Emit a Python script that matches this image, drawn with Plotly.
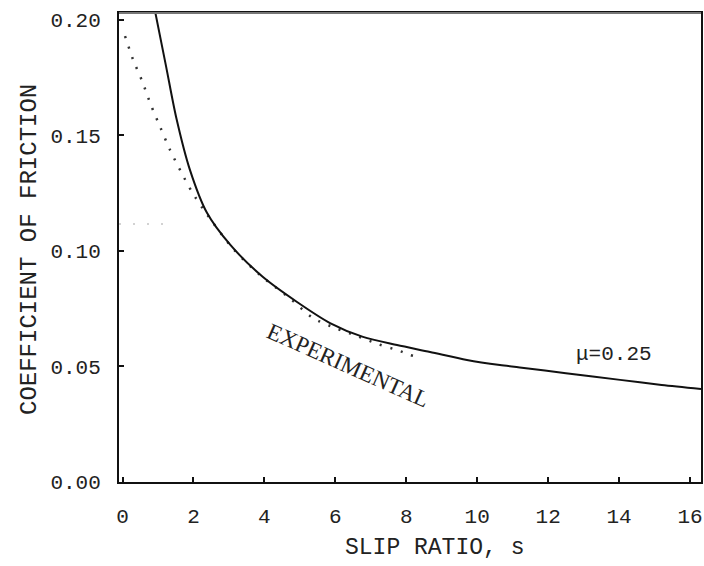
import plotly.graph_objects as go

# Theoretical curve (mu = 0.25)
solid_s = [0.92, 1.23, 1.51, 1.90, 2.38, 3.04, 3.96, 4.92, 5.85, 6.78, 7.74, 8.67,
           9.71, 10.64, 11.20, 12.50, 14.03, 15.20, 16.31]
solid_mu = [0.2035, 0.1797, 0.1580, 0.1351, 0.1165, 0.1026, 0.0887, 0.0779, 0.0688,
            0.0628, 0.0593, 0.0563, 0.0528, 0.0506, 0.0496, 0.0471, 0.0442, 0.0420,
            0.0403]

# Experimental curve (dotted)
exp_s = [0.07, 0.30, 0.55, 0.80, 1.06, 1.34, 1.65, 1.96, 2.33, 3.12, 3.88, 4.72,
         5.37, 5.99, 6.61, 7.20, 7.82, 8.10, 8.35]
exp_mu = [0.193, 0.1827, 0.1736, 0.1632, 0.1537, 0.1437, 0.1342, 0.1255, 0.1169,
          0.1009, 0.0895, 0.0795, 0.0710, 0.0667, 0.0632, 0.0597, 0.0567, 0.0550,
          0.0540]

# faint scan artefact (dotted horizontal trace near 0.11)
faint_s = [-0.1, 1.45]
faint_mu = [0.1117, 0.1117]

x_ticks = [0, 2, 4, 6, 8, 10, 12, 14, 16]
y_ticks = [0.00, 0.05, 0.10, 0.15, 0.20]
y_tick_text = ["0.00", "0.05", "0.10", "0.15", "0.20"]

x_title = "SLIP RATIO, s"
y_title = "COEFFICIENT OF FRICTION"
label_exp = "EXPERIMENTAL"
label_mu = "μ=0.25"

mono = "Liberation Mono"
serif = "Liberation Serif"

fig = go.Figure()
fig.add_trace(go.Scatter(x=faint_s, y=faint_mu, mode="lines",
                         line=dict(color="#c4c4c4", width=1.5, dash="2px,12px"),
                         hoverinfo="skip", showlegend=False))
fig.add_trace(go.Scatter(x=exp_s, y=exp_mu, mode="lines", line_shape="spline",
                         line=dict(color="#333333", width=2.5, dash="2px,9px",
                                   smoothing=0.8),
                         showlegend=False))
fig.add_trace(go.Scatter(x=solid_s, y=solid_mu, mode="lines", line_shape="spline",
                         line=dict(color="#111111", width=2, smoothing=0.8),
                         showlegend=False))

fig.update_layout(
    width=704, height=566,
    margin=dict(l=119, r=3, t=13, b=84),
    paper_bgcolor="white", plot_bgcolor="white",
    showlegend=False,
    xaxis=dict(range=[-0.1, 16.31], tickvals=x_ticks, ticks="inside", ticklen=5,
               tickwidth=1.5, tickcolor="#111", showline=True, linecolor="#111",
               linewidth=2, mirror=True, showgrid=False, zeroline=False,
               automargin=False,
               tickfont=dict(family=mono, size=21, color="#222"),
               ticklabelstandoff=14),
    yaxis=dict(range=[0, 0.203], tickvals=y_ticks, ticktext=y_tick_text,
               ticks="inside", ticklen=5, tickwidth=1.5, tickcolor="#111",
               showline=True, linecolor="#111", linewidth=2, mirror=True,
               showgrid=False, zeroline=False, automargin=False,
               tickfont=dict(family=mono, size=21, color="#222"),
               ticklabelstandoff=12),
    shapes=[dict(type="line", xref="paper", yref="paper", x0=0, x1=1, y0=1, y1=1,
                 line=dict(color="#777777", width=2))],
    annotations=[
        dict(text=x_title, xref="paper", yref="paper", x=(434 - 119) / 582,
             y=-(548 - 482) / 469, xanchor="center", yanchor="middle",
             showarrow=False, font=dict(family=mono, size=23, color="#222")),
        dict(text=y_title, xref="paper", yref="paper", x=-(119 - 30) / 582,
             y=(482 - 250) / 469, xanchor="center", yanchor="middle",
             textangle=-90, showarrow=False,
             font=dict(family=mono, size=24, color="#222")),
        dict(text=label_exp, x=6.36, y=0.0506, xref="x", yref="y",
             textangle=24, showarrow=False,
             font=dict(family=serif, size=23, color="#222")),
        dict(text=label_mu, x=13.86, y=0.0554, xref="x", yref="y",
             showarrow=False, font=dict(family=mono, size=21, color="#222")),
    ],
)

fig.write_html("out.html",
               config={"displayModeBar": False},
               post_script="document.body.style.margin='0';document.body.style.overflow='hidden';")
